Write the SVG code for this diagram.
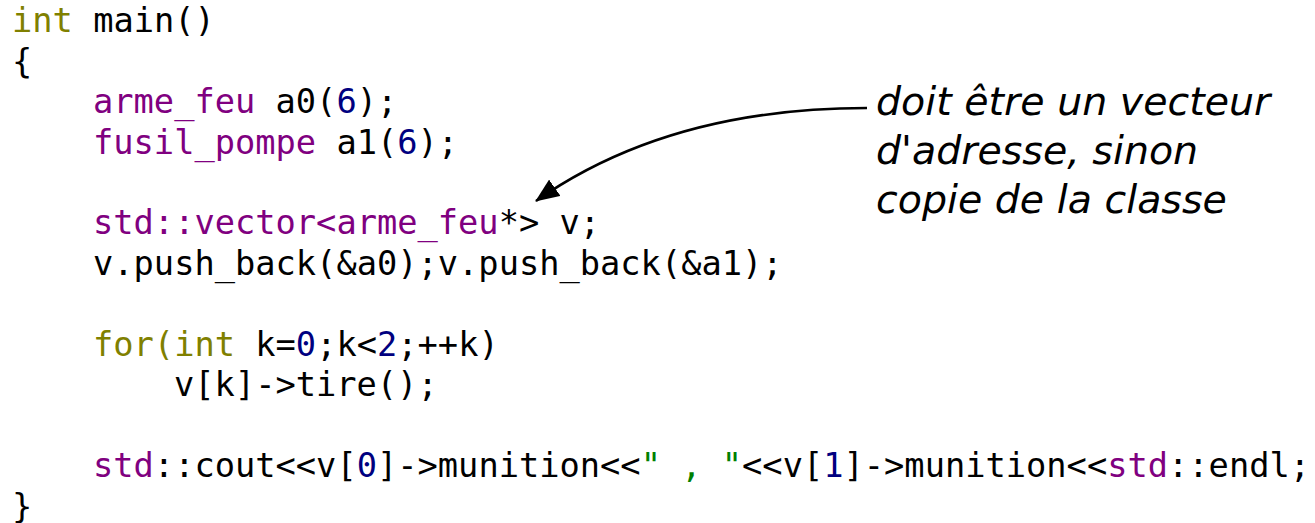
<svg xmlns="http://www.w3.org/2000/svg" width="1315" height="523" viewBox="0 0 1315 523">
  <style>
    .code { font-family: "DejaVu Sans Mono", "Liberation Mono", monospace; font-size: 33.7px; fill: #000; white-space: pre; }
    .kw { fill: #808000; }
    .ty { fill: #800080; }
    .num { fill: #000080; }
    .str { fill: #008000; }
    .note { font-family: "DejaVu Sans", "Liberation Sans", sans-serif; font-style: italic; font-size: 39.5px; fill: #000; }
    .link { fill: none; stroke: #000; stroke-width: 2.5; }
  </style>
  <defs>
    <marker id="tip" viewBox="0 0 24 20" refX="23" refY="10" markerWidth="24" markerHeight="20" markerUnits="userSpaceOnUse" orient="auto">
      <path d="M0,0 L24,10 L0,20 z" fill="#000"/>
    </marker>
  </defs>

  <rect width="1315" height="523" fill="#fff"/>

  <!-- source listing -->
  <g id="listing" class="code">
    <text x="12" y="32"><tspan class="kw">int</tspan> main()</text>
    <text x="12" y="72.5">{</text>
    <text x="93" y="113"><tspan class="ty">arme_feu</tspan> a0(<tspan class="num">6</tspan>);</text>
    <text x="93" y="153.5"><tspan class="ty">fusil_pompe</tspan> a1(<tspan class="num">6</tspan>);</text>
    <text x="93" y="234"><tspan class="ty">std::vector&lt;arme_feu</tspan>*&gt; v;</text>
    <text x="93" y="274.5">v.push_back(&amp;a0);v.push_back(&amp;a1);</text>
    <text x="93" y="355.5"><tspan class="kw">for(int</tspan> k=<tspan class="num">0</tspan>;k&lt;<tspan class="num">2</tspan>;++k)</text>
    <text x="174" y="396">v[k]-&gt;tire();</text>
    <text x="93" y="477"><tspan class="ty">std</tspan>::cout&lt;&lt;v[<tspan class="num">0</tspan>]-&gt;munition&lt;&lt;<tspan class="str">" , "</tspan>&lt;&lt;v[<tspan class="num">1</tspan>]-&gt;munition&lt;&lt;<tspan class="ty">std</tspan>::endl;</text>
    <text x="12" y="517.5">}</text>
  </g>

  <!-- side remark -->
  <g id="remark" class="note">
    <text x="876" y="115">doit être un vecteur</text>
    <text x="876" y="164">d'adresse, sinon</text>
    <text x="876" y="213">copie de la classe</text>
  </g>

  <!-- pointer from the remark to the vector declaration -->
  <g id="connectors">
    <path class="link" d="M867,108 C745,108 630,135 536,201" marker-end="url(#tip)"/>
  </g>
</svg>
